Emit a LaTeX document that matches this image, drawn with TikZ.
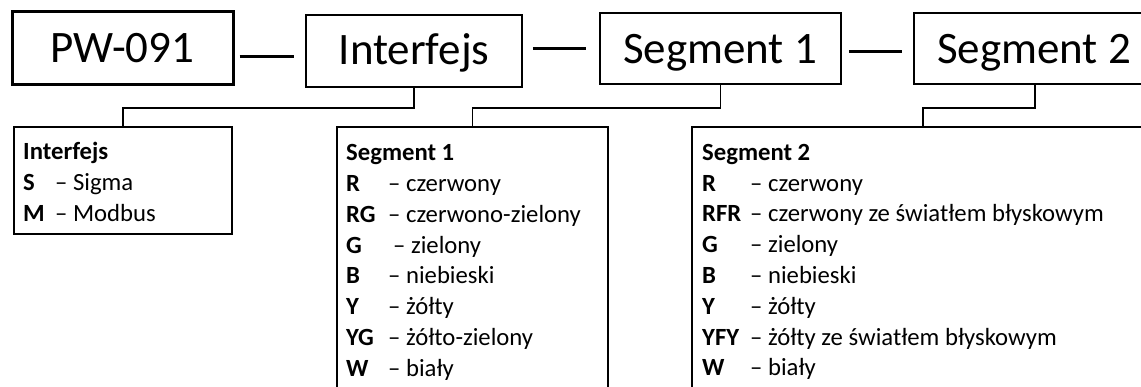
\documentclass[tikz,border=0pt]{standalone}
\usepackage{fontspec}
\setmainfont{Carlito}
\usetikzlibrary{calc}
\newcommand{\lrow}[3]{\makebox[#1][l]{\textbf{#2}}–\ #3}
\tikzset{
  topbox/.style={draw, line width=1.5pt, inner sep=0pt, font=\fontsize{45}{54}\selectfont},
  thickbox/.style={topbox, line width=3pt},
  dashc/.style={line width=3pt},
  elbow/.style={line width=1.5pt},
  listbox/.style={draw, line width=1.5pt},
  listtext/.style={anchor=base west, inner sep=0pt, font=\fontsize{24.7}{30.8}\selectfont}
}
\begin{document}
\begin{tikzpicture}[x=1pt,y=-1pt]
\useasboundingbox (0,0) rectangle (1141,387);
\clip (0,0) rectangle (1141,387);
% top boxes
\node[thickbox, minimum width=221pt, minimum height=73pt] (pw) at (122.5,48.5) {};
\node[font=\fontsize{45}{54}\selectfont, inner sep=0pt, anchor=base] (pwt) at (122.5,63) {PW-091};
\node[topbox, minimum width=216pt, minimum height=72pt] (intf) at (414,51) {};
\node[font=\fontsize{45}{54}\selectfont, inner sep=0pt, anchor=base] (intft) at (414,65) {Interfejs};
\node[topbox, minimum width=241pt, minimum height=71pt] (s1) at (720.5,48.5) {};
\node[font=\fontsize{45}{54}\selectfont, inner sep=0pt, anchor=base] (s1t) at (720,63.3) {Segment 1};
\node[topbox, minimum width=242pt, minimum height=71pt] (s2) at (1035,48.5) {};
\node[font=\fontsize{45}{54}\selectfont, inner sep=0pt, anchor=base] (s2t) at (1034,63.3) {Segment 2};
% dash connectors
\coordinate (d1) at (0,57);
\coordinate (d2) at (0,49);
\coordinate (d3) at (0,52);
\draw[dashc] ([xshift=5pt]pw.east |- d1) -- ([xshift=-11pt]intf.west |- d1);
\draw[dashc] ([xshift=10pt]intf.east |- d2) -- ([xshift=-13pt]s1.west |- d2);
\draw[dashc] ([xshift=7pt]s1.east |- d3) -- ([xshift=-11pt]s2.west |- d3);
% list boxes
\node[listbox, minimum width=218pt, minimum height=107pt] (l1) at (123,180.5) {};
\node[listbox, minimum width=271pt, minimum height=270pt] (l2) at (472.5,262) {};
\node[listbox, minimum width=462pt, minimum height=270pt] (l3) at (923,262) {};
% elbow connectors
\coordinate (e) at (0,108);
\draw[elbow] (intf.south) -- (intf.south |- e) -| (l1.north);
\draw[elbow] (s1.south) -- (s1.south |- e) -| (l2.north);
\draw[elbow] (s2.south) -- (s2.south |- e) -| (l3.north);
% list texts
\node[listtext] (l1t) at (23,160) {\parbox[t]{200pt}{\fontsize{24.7}{30.8}\selectfont
\textbf{Interfejs}\\
\lrow{32pt}{S}{Sigma}\\
\lrow{32pt}{M}{Modbus}}};
\node[listtext] (l2t) at (346,160.7) {\parbox[t]{260pt}{\fontsize{24.7}{30.8}\selectfont
\textbf{Segment 1}\\
\lrow{42pt}{R}{czerwony}\\
\lrow{42pt}{RG}{czerwono-zielony}\\
\lrow{47pt}{G}{zielony}\\
\lrow{42pt}{B}{niebieski}\\
\lrow{42pt}{Y}{żółty}\\
\lrow{42pt}{YG}{żółto-zielony}\\
\lrow{42pt}{W}{biały}}};
\node[listtext] (l3t) at (702,160.3) {\parbox[t]{430pt}{\fontsize{24.7}{30.8}\selectfont
\textbf{Segment 2}\\
\lrow{48pt}{R}{czerwony}\\
\lrow{48pt}{RFR}{czerwony ze światłem błyskowym}\\
\lrow{48pt}{G}{zielony}\\
\lrow{48pt}{B}{niebieski}\\
\lrow{48pt}{Y}{żółty}\\
\lrow{48pt}{YFY}{żółty ze światłem błyskowym}\\
\lrow{48pt}{W}{biały}}};
\end{tikzpicture}
\end{document}
